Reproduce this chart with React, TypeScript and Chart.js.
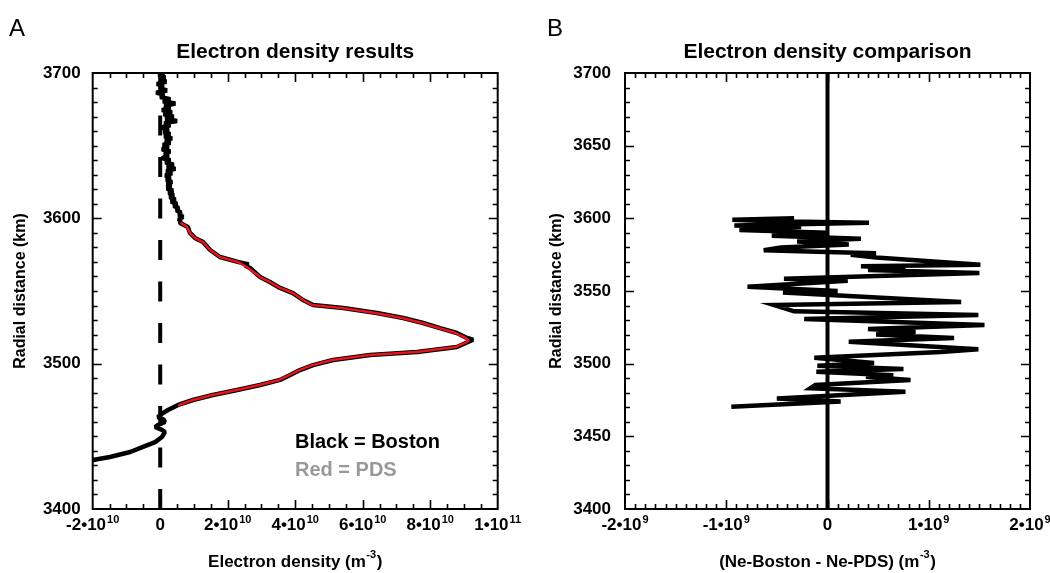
import React, { useEffect, useRef } from 'react';
import { Chart, registerables } from 'chart.js';

Chart.register(...registerables);

const FONT = '"Liberation Sans", Arial, Helvetica, sans-serif';

// Boston retrieval: radial distance (km) vs electron density (m^-3)
const bostonRadius = [
  3700, 3698.5, 3697, 3695.5, 3694, 3692.5, 3691, 3689.5, 3688, 3686.5, 3685, 3683.5, 3682, 3680.5,
  3679, 3677.5, 3676, 3674.5, 3673, 3671.5, 3670, 3668.5, 3667, 3665.5, 3664, 3662.5, 3661, 3659.5,
  3658, 3656.5, 3655, 3653.5, 3652, 3650.5, 3649, 3647.5, 3646, 3644.5, 3643, 3641.5, 3640, 3638.5,
  3637, 3635.5, 3634, 3632.5, 3631, 3629.5, 3628, 3626.5, 3625, 3623.5, 3622, 3620.5, 3619, 3617.5,
  3616, 3614.5, 3613, 3611.5, 3610, 3608.5, 3607, 3605.5, 3604, 3602.5, 3601, 3599.5, 3598, 3596.8,
  3594, 3590, 3586.5, 3583.7, 3578.2, 3573.4, 3570, 3568.2, 3567.4, 3565.8, 3559.6, 3556.2, 3552.1,
  3548.6, 3543.8, 3540.4, 3538.3, 3534.9, 3531.4, 3528, 3524.5, 3521.1, 3517.7, 3516.5, 3514.9,
  3511.5, 3508, 3506, 3502.5, 3499, 3495.6, 3492.2, 3488.8, 3485.3, 3481.9, 3478.4, 3475, 3471.6,
  3468.1, 3466, 3463.3, 3461.5, 3459.9, 3458, 3456.4, 3454.5, 3453, 3449.5, 3446, 3442.7, 3439.2,
  3435.8, 3433.7, 3432.5,
];
const bostonDensity = [
  0.12e10, -0.05e10, 0.15e10, 0.0, 0.18e10, -0.1e10, 0.1e10, -0.02e10, 0.2e10, -0.12e10, 0.12e10,
  0.0, 0.3e10, 0.08e10, 0.45e10, 0.12e10, 0.3e10, 0.05e10, 0.35e10, 0.1e10, 0.4e10, 0.15e10, 0.5e10,
  0.12e10, 0.3e10, 0.05e10, 0.25e10, 0.1e10, 0.3e10, 0.12e10, 0.35e10, 0.15e10, 0.3e10, 0.08e10,
  0.25e10, 0.05e10, 0.3e10, 0.12e10, 0.25e10, 0.05e10, 0.3e10, 0.15e10, 0.4e10, 0.2e10, 0.45e10,
  0.18e10, 0.35e10, 0.15e10, 0.3e10, 0.18e10, 0.35e10, 0.2e10, 0.32e10, 0.2e10, 0.38e10, 0.25e10,
  0.4e10, 0.28e10, 0.45e10, 0.32e10, 0.5e10, 0.4e10, 0.55e10, 0.48e10, 0.62e10, 0.55e10, 0.68e10,
  0.55e10, 0.6e10, 0.59e10, 0.82e10, 0.88e10, 1.03e10, 1.27e10, 1.48e10, 1.77e10, 2.3e10, 2.62e10,
  2.52e10, 2.66e10, 2.96e10, 3.25e10, 3.55e10, 3.93e10, 4.23e10, 4.53e10, 5.42e10, 6.42e10, 7.2e10,
  7.79e10, 8.29e10, 8.79e10, 9.09e10, 9.27e10, 9.12e10, 8.79e10, 7.61e10, 6.22e10, 5.12e10, 4.53e10,
  4.14e10, 3.85e10, 3.55e10, 2.96e10, 2.28e10, 1.56e10, 0.97e10, 0.53e10, 0.23e10, 0.08e10,
  -0.07e10, 0.1e10, 0.14e10, -0.05e10, -0.15e10, 0.05e10, 0.14e10, 0.05e10, -0.15e10, -0.51e10,
  -0.89e10, -1.49e10, -1.99e10, -2.3e10,
];

// PDS archive profile over the ionospheric peak
const pdsRadius = [
  3597, 3594, 3590, 3586.5, 3583.7, 3578.2, 3573.4, 3570, 3566, 3559.6, 3556.2, 3552.1, 3548.6,
  3543.8, 3540.4, 3538.3, 3534.9, 3531.4, 3528, 3524.5, 3521.1, 3517.7, 3516, 3514.9, 3511.5, 3508,
  3506, 3502.5, 3499, 3495.6, 3492.2, 3488.8, 3485.3, 3481.9, 3478.4, 3475, 3472, 3471.2,
];
const pdsDensity = [
  0.6e10, 0.8e10, 0.88e10, 1.03e10, 1.27e10, 1.48e10, 1.77e10, 2.3e10, 2.6e10, 2.96e10, 3.25e10,
  3.55e10, 3.93e10, 4.23e10, 4.5e10, 5.38e10, 6.38e10, 7.17e10, 7.76e10, 8.26e10, 8.75e10, 9.05e10,
  9.14e10, 9.08e10, 8.76e10, 7.59e10, 6.2e10, 5.1e10, 4.51e10, 4.12e10, 3.83e10, 3.53e10, 2.94e10,
  2.27e10, 1.55e10, 0.97e10, 0.6e10, 0.53e10,
];

// Difference Ne-Boston - Ne-PDS (m^-3)
const diffRadius = [
  3600, 3599, 3598, 3597, 3595, 3594, 3592, 3590, 3588, 3586, 3584, 3582, 3580, 3578, 3577, 3576,
  3575, 3573, 3568, 3567, 3566, 3564.5, 3562.4, 3558.5, 3557, 3553, 3550, 3549, 3542.4, 3540.4,
  3536, 3533.5, 3530.7, 3526.6, 3523.8, 3522, 3520, 3517.7, 3515, 3510, 3508, 3504, 3500.5, 3498.5,
  3496.3, 3494.5, 3492, 3491, 3488.8, 3485.3, 3483, 3480.7, 3476, 3474, 3470.4,
];
const diffValue = [
  -0.33e9, -0.94e9, -0.56e9, 0.41e9, -0.92e9, -0.26e9, -0.87e9, 0.0, -0.55e9, 0.33e9, -0.3e9,
  0.21e9, -0.46e9, -0.63e9, -0.1e9, 0.48e9, 0.23e9, 0.48e9, 1.51e9, 0.33e9, 0.77e9, 0.4e9, 1.5e9,
  -0.43e9, 0.2e9, -0.79e9, 0.1e9, -0.44e9, 1.32e9, -0.53e9, -0.33e9, 1.49e9, -0.23e9, 1.55e9, 0.4e9,
  0.87e9, 0.48e9, 1.25e9, 0.21e9, 1.49e9, 1.12e9, -0.13e9, 0.46e9, -0.1e9, 0.75e9, -0.11e9, 0.65e9,
  0.38e9, 0.82e9, -0.12e9, -0.17e9, 0.77e9, -0.5e9, 0.13e9, -0.95e9,
];

// Axis tick values and labels (mantissa, exponent)
const densityTicks = [-2e10, 0, 2e10, 4e10, 6e10, 8e10, 1e11];
const densityTickLabels: [string, string][] = [
  ['-2•10', '10'], ['0', ''], ['2•10', '10'], ['4•10', '10'], ['6•10', '10'], ['8•10', '10'], ['1•10', '11'],
];
const diffTicks = [-2e9, -1e9, 0, 1e9, 2e9];
const diffTickLabels: [string, string][] = [
  ['-2•10', '9'], ['-1•10', '9'], ['0', ''], ['1•10', '9'], ['2•10', '9'],
];
const radiusTicksLeft = [3400, 3500, 3600, 3700];
const radiusTicksRight = [3400, 3450, 3500, 3550, 3600, 3650, 3700];

const zip = (ys: number[], xs: number[]) => ys.map((y, i) => ({ x: xs[i], y }));

type FrameOpts = {
  letter: string;
  letterX: number;
  title: string;
  xTicks: number[];
  xLabels: [string, string][];
  xMinor: number;
  yMinor: number;
  yMajor: number[];
  xTitle: [string, string, string];
  yTitle: string;
  yTitleX: number;
  notes?: { text: string; color: string; x: number; y: number }[];
};

// Box frame with inward ticks, titles and annotations
const framePlugin = {
  id: 'frame',
  afterDatasetsDraw(chart: any, _args: any, o: FrameOpts) {
    const ctx: CanvasRenderingContext2D = chart.ctx;
    const { left, right, top, bottom } = chart.chartArea;
    const xs = chart.scales.x;
    const ys = chart.scales.y;
    ctx.save();
    ctx.strokeStyle = '#000';
    ctx.lineWidth = 2;
    ctx.lineCap = 'butt';
    ctx.strokeRect(left, top, right - left, bottom - top);

    const isMajorX = (v: number) => o.xTicks.some((t) => Math.abs(t - v) < Math.abs(o.xMinor) * 1e-3);
    const nx = Math.round((xs.max - xs.min) / o.xMinor);
    ctx.lineWidth = 1.6;
    ctx.beginPath();
    for (let i = 1; i < nx; i++) {
      const v = xs.min + i * o.xMinor;
      const px = Math.round(xs.getPixelForValue(v)) + 0.5;
      const len = isMajorX(v) ? 9 : 5;
      ctx.moveTo(px, bottom);
      ctx.lineTo(px, bottom - len);
      ctx.moveTo(px, top);
      ctx.lineTo(px, top + len);
    }
    const ny = Math.round((ys.max - ys.min) / o.yMinor);
    for (let i = 1; i < ny; i++) {
      const v = ys.min + i * o.yMinor;
      const py = Math.round(ys.getPixelForValue(v)) + 0.5;
      const len = o.yMajor.includes(v) ? 9 : 5;
      ctx.moveTo(left, py);
      ctx.lineTo(left + len, py);
      ctx.moveTo(right, py);
      ctx.lineTo(right - len, py);
    }
    ctx.stroke();

    // x tick labels with exponents
    ctx.fillStyle = '#000';
    ctx.textBaseline = 'alphabetic';
    ctx.textAlign = 'left';
    const baseFont = `bold 17px ${FONT}`;
    const expFont = `bold 11px ${FONT}`;
    o.xTicks.forEach((v, i) => {
      const [base, exp] = o.xLabels[i];
      ctx.font = baseFont;
      const wb = ctx.measureText(base).width;
      ctx.font = expFont;
      const we = exp ? ctx.measureText(exp).width + 1 : 0;
      const px = xs.getPixelForValue(v);
      const x0 = px - (wb + we) / 2;
      ctx.font = baseFont;
      ctx.fillText(base, x0, 530);
      if (exp) {
        ctx.font = expFont;
        ctx.fillText(exp, x0 + wb + 1, 523);
      }
    });

    // x axis title with superscript
    const tf = `bold 17px ${FONT}`;
    const tsf = `bold 11px ${FONT}`;
    const [t1, t2, t3] = o.xTitle;
    ctx.font = tf;
    const w1 = ctx.measureText(t1).width;
    const w3 = ctx.measureText(t3).width;
    ctx.font = tsf;
    const w2 = ctx.measureText(t2).width;
    const cx = (left + right) / 2;
    let tx = cx - (w1 + w2 + w3 + 1) / 2;
    ctx.font = tf;
    ctx.fillText(t1, tx, 567);
    tx += w1 + 0.5;
    ctx.font = tsf;
    ctx.fillText(t2, tx, 558);
    tx += w2 + 0.5;
    ctx.font = tf;
    ctx.fillText(t3, tx, 567);

    // y axis title
    ctx.save();
    ctx.translate(o.yTitleX, (top + bottom) / 2);
    ctx.rotate(-Math.PI / 2);
    ctx.font = `bold 16px ${FONT}`;
    ctx.textAlign = 'center';
    ctx.textBaseline = 'middle';
    ctx.fillText(o.yTitle, 0, 0);
    ctx.restore();

    // chart title
    ctx.font = `bold 21px ${FONT}`;
    ctx.textAlign = 'center';
    ctx.textBaseline = 'alphabetic';
    ctx.fillText(o.title, (left + right) / 2, 58);

    // panel letter
    ctx.font = `24px ${FONT}`;
    ctx.textAlign = 'left';
    ctx.fillText(o.letter, o.letterX, 36);

    (o.notes || []).forEach((n) => {
      ctx.font = `bold 20px ${FONT}`;
      ctx.fillStyle = n.color;
      ctx.fillText(n.text, n.x, n.y);
    });
    ctx.restore();
  },
};

const yTickFont = { family: FONT, size: 17, weight: 'bold' as const };

function makeConfig(opts: {
  datasets: any[];
  xMin: number;
  xMax: number;
  yStep: number;
  yWidth: number;
  padRight: number;
  yPad: number;
  frame: FrameOpts;
}): any {
  return {
    type: 'scatter',
    data: { datasets: opts.datasets },
    plugins: [framePlugin],
    options: {
      animation: false,
      responsive: false,
      devicePixelRatio: 1,
      events: [],
      layout: { padding: { left: 0, right: opts.padRight, top: 73, bottom: 0 } },
      plugins: {
        legend: { display: false },
        tooltip: { enabled: false },
        frame: opts.frame,
      },
      scales: {
        x: {
          type: 'linear',
          min: opts.xMin,
          max: opts.xMax,
          ticks: { display: false },
          grid: { display: false },
          border: { display: false },
          afterFit: (s: any) => {
            s.height = 64;
          },
        },
        y: {
          type: 'linear',
          min: 3400,
          max: 3700,
          ticks: {
            stepSize: opts.yStep,
            font: yTickFont,
            color: '#000',
            padding: opts.yPad,
            callback: (v: number) => String(v),
          },
          grid: { display: false, drawTicks: false },
          border: { display: false },
          afterFit: (s: any) => {
            s.width = opts.yWidth;
          },
        },
      },
    },
  };
}

const line = (data: any[], color: string, width: number, order: number, extra: any = {}) => ({
  data,
  showLine: true,
  borderColor: color,
  backgroundColor: color,
  borderWidth: width,
  pointRadius: 0,
  order,
  ...extra,
});

export default function App() {
  const leftRef = useRef<HTMLCanvasElement>(null);
  const rightRef = useRef<HTMLCanvasElement>(null);

  useEffect(() => {
    const left = new Chart(
      leftRef.current!,
      makeConfig({
        datasets: [
          line(zip(pdsRadius, pdsDensity), '#e8141c', 2.5, 0, { borderJoinStyle: 'round' }),
          line(zip(bostonRadius, bostonDensity), '#000', 4.5, 1, { borderJoinStyle: 'bevel' }),
          line([{ x: 0, y: 3400 }, { x: 0, y: 3700 }], '#000', 4, 2, { borderDash: [20, 21.5] }),
        ],
        xMin: -2e10,
        xMax: 1e11,
        yStep: 100,
        yWidth: 92.7,
        padRight: 27.3,
        yPad: 12,
        frame: {
          letter: 'A',
          letterX: 9,
          title: 'Electron density results',
          xTicks: densityTicks,
          xLabels: densityTickLabels,
          xMinor: 5e9,
          yMinor: 10,
          yMajor: radiusTicksLeft,
          xTitle: ['Electron density (m', '-3', ')'],
          yTitle: 'Radial distance (km)',
          yTitleX: 21,
          notes: [
            { text: 'Black = Boston', color: '#000', x: 295, y: 448 },
            { text: 'Red = PDS', color: '#999999', x: 295, y: 476 },
          ],
        },
      })
    );
    const right = new Chart(
      rightRef.current!,
      makeConfig({
        datasets: [
          line(zip(diffRadius, diffValue), '#000', 4.5, 0),
          line([{ x: 0, y: 3400 }, { x: 0, y: 3700 }], '#000', 4, 1),
        ],
        xMin: -2e9,
        xMax: 2e9,
        yStep: 50,
        yWidth: 100,
        padRight: 20,
        yPad: 14,
        frame: {
          letter: 'B',
          letterX: 22,
          title: 'Electron density comparison',
          xTicks: diffTicks,
          xLabels: diffTickLabels,
          xMinor: 1e8,
          yMinor: 10,
          yMajor: radiusTicksRight,
          xTitle: ['(Ne-Boston - Ne-PDS) (m', '-3', ')'],
          yTitle: 'Radial distance (km)',
          yTitleX: 32,
        },
      })
    );
    return () => {
      left.destroy();
      right.destroy();
    };
  }, []);

  return (
    <div style={{ position: 'fixed', left: 0, top: 0, width: 1050, height: 573, background: '#fff' }}>
      <canvas ref={leftRef} width={525} height={573} style={{ position: 'absolute', left: 0, top: 0 }} />
      <canvas ref={rightRef} width={525} height={573} style={{ position: 'absolute', left: 525, top: 0 }} />
    </div>
  );
}
